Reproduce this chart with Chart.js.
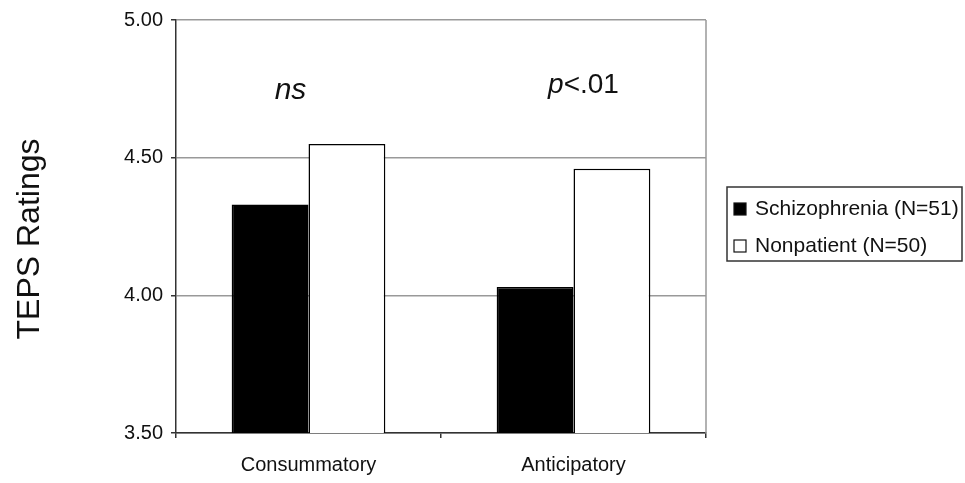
<!DOCTYPE html>
<html>
<head>
<meta charset="utf-8">
<script src="https://cdn.jsdelivr.net/npm/chart.js@4.4.1/dist/chart.umd.min.js"></script>
<style>
  html, body { margin: 0; padding: 0; background: #fff; }
  #wrap { width: 965px; height: 483px; }
</style>
</head>
<body>
<div id="wrap"><canvas id="teps-chart"></canvas></div>
<script>
// TEPS ratings by group
const categories = ['Consummatory', 'Anticipatory'];
const schizophrenia = [4.33, 4.03];
const nonpatient = [4.55, 4.46];
const seriesLabels = ['Schizophrenia (N=51)', 'Nonpatient (N=50)'];
const yTicks = [3.5, 4.0, 4.5, 5.0];
const significance = ['ns', 'p<.01'];

Chart.defaults.font.family = "'Liberation Sans', Arial, sans-serif";
Chart.defaults.color = '#111';

// right-hand frame line of the plot area
const frameLine = {
    id: 'frameLine',
    afterDatasetsDraw(chart) {
        const {ctx, chartArea} = chart;
        ctx.save();
        ctx.strokeStyle = '#999';
        ctx.lineWidth = 1.5;
        ctx.beginPath();
        ctx.moveTo(chartArea.right, chartArea.top);
        ctx.lineTo(chartArea.right, chartArea.bottom);
        ctx.stroke();
        ctx.restore();
    }
};

// ns / p<.01 over each group, y-axis title, boxed legend
const extras = {
    id: 'extras',
    afterDraw(chart) {
        const {ctx} = chart;
        const x = chart.scales.x;
        const y = chart.scales.y;
        ctx.save();
        ctx.fillStyle = '#111';
        ctx.textBaseline = 'alphabetic';

        // ns
        ctx.textAlign = 'center';
        ctx.font = "italic 30px 'Liberation Sans', Arial, sans-serif";
        ctx.fillText(significance[0], x.getPixelForValue(0) - 18, y.getPixelForValue(4.714));

        // p<.01 : italic p, upright rest
        const px = x.getPixelForValue(1) + 10;
        const py = y.getPixelForValue(4.736);
        ctx.font = "italic 28px 'Liberation Sans', Arial, sans-serif";
        const pW = ctx.measureText('p').width;
        ctx.font = "28px 'Liberation Sans', Arial, sans-serif";
        const restW = ctx.measureText(significance[1].slice(1)).width;
        const startX = px - (pW + restW) / 2;
        ctx.textAlign = 'left';
        ctx.font = "italic 28px 'Liberation Sans', Arial, sans-serif";
        ctx.fillText('p', startX, py);
        ctx.font = "28px 'Liberation Sans', Arial, sans-serif";
        ctx.fillText(significance[1].slice(1), startX + pW, py);

        // y title
        ctx.save();
        ctx.translate(39, 239);
        ctx.rotate(-Math.PI / 2);
        ctx.textAlign = 'center';
        ctx.font = "32px 'Liberation Sans', Arial, sans-serif";
        ctx.fillText('TEPS Ratings', 0, 0);
        ctx.restore();

        // legend
        const lx = 727, ly = 187, lw = 235, lh = 74;
        ctx.strokeStyle = '#333';
        ctx.lineWidth = 1.5;
        ctx.strokeRect(lx, ly, lw, lh);
        ctx.font = "21px 'Liberation Sans', Arial, sans-serif";
        ctx.textAlign = 'left';
        chart.data.datasets.forEach((ds, i) => {
            const base = 215 + i * 37;
            ctx.fillStyle = ds.backgroundColor;
            ctx.fillRect(734, base - 12, 12, 12);
            ctx.strokeStyle = '#111';
            ctx.lineWidth = 1.2;
            ctx.strokeRect(734, base - 12, 12, 12);
            ctx.fillStyle = '#111';
            ctx.fillText(ds.label, 755, base);
        });
        ctx.restore();
    }
};

const dataForTeps = {
    labels: categories,
    datasets: [
        {
            label: seriesLabels[0],
            data: schizophrenia,
            backgroundColor: '#000',
            borderColor: '#000',
            borderWidth: 1.5
        },
        {
            label: seriesLabels[1],
            data: nonpatient,
            backgroundColor: '#fff',
            borderColor: '#000',
            borderWidth: 1.5
        }
    ]
};

const configForTeps = {
    type: 'bar',
    data: dataForTeps,
    options: {
        responsive: true,
        maintainAspectRatio: false,
        animation: false,
        categoryPercentage: 0.58,
        barPercentage: 1.0,
        layout: {
            padding: {top: 19, right: 259, left: 0, bottom: 0}
        },
        plugins: {
            legend: {display: false},
            tooltip: {enabled: false}
        },
        scales: {
            x: {
                offset: true,
                afterFit: scale => { scale.height = 50; },
                grid: {
                    offset: true,
                    drawOnChartArea: false,
                    tickLength: 5,
                    tickColor: '#333',
                    lineWidth: 1.5
                },
                border: {color: '#333', width: 1.5},
                ticks: {
                    padding: 15,
                    color: '#111',
                    font: {size: 20}
                }
            },
            y: {
                min: 3.5,
                max: 5.0,
                afterFit: scale => { scale.width = 176; },
                afterBuildTicks: scale => {
                    scale.ticks = yTicks.map(v => ({value: v}));
                },
                grid: {
                    color: '#999',
                    lineWidth: 1.5,
                    tickLength: 5,
                    tickColor: '#333'
                },
                border: {color: '#333', width: 1.5},
                ticks: {
                    padding: 8,
                    color: '#111',
                    font: {size: 20},
                    callback: v => Number(v).toFixed(2)
                }
            }
        }
    },
    plugins: [frameLine, extras]
};

const tepsChart = new Chart(
    document.getElementById('teps-chart'),
    configForTeps
);
</script>
</body>
</html>
